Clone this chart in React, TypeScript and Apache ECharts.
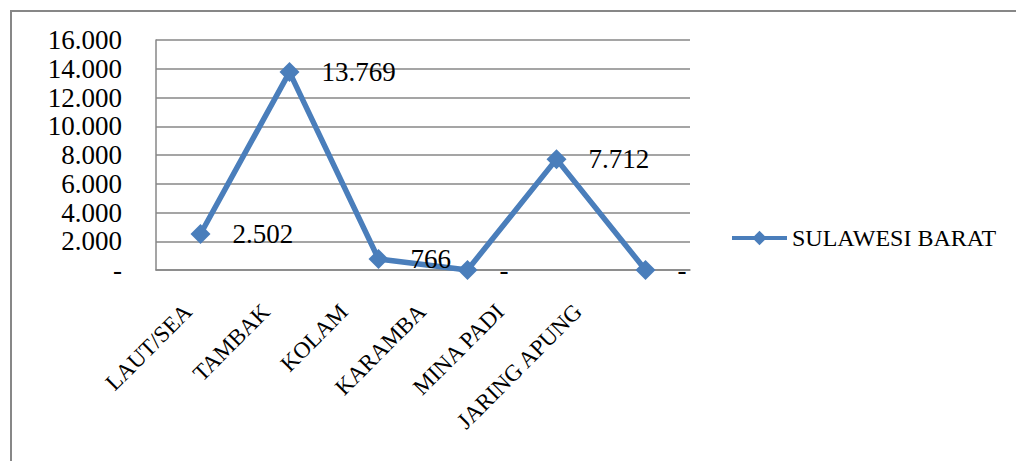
import React, { useEffect, useRef } from "react";
import * as echarts from "echarts";

const categories = ["LAUT/SEA", "TAMBAK", "KOLAM", "KARAMBA", "MINA PADI", "JARING APUNG"];
const values = [2502, 13769, 766, 0, 7712, 0];
const seriesName = "SULAWESI BARAT";
const yMin = 0;
const yMax = 16000;
const yInterval = 2000;

const fmt = (v: number) =>
  v === 0 ? "-" : String(Math.round(v)).replace(/\B(?=(\d{3})+(?!\d))/g, ".");

const FONT = "Liberation Serif";
const BLUE = "#4a7ebb";
const GRAY = "#878787";

export default function App() {
  const ref = useRef<HTMLDivElement>(null);
  useEffect(() => {
    if (!ref.current) return;
    const chart = echarts.init(ref.current, undefined, { renderer: "svg" });
    chart.setOption({
      animation: false,
      backgroundColor: "#ffffff",
      textStyle: { fontFamily: FONT },
      graphic: [
        {
          type: "rect",
          shape: { x: 11, y: 11, width: 1010, height: 460 },
          style: { fill: "none", stroke: GRAY, lineWidth: 2 },
          silent: true,
        },
      ],
      legend: {
        left: 730,
        top: 226,
        padding: 0,
        itemWidth: 55,
        itemHeight: 18,
        itemGap: 5,
        lineStyle: { width: 4 },
        textStyle: { fontFamily: FONT, fontSize: 24, color: "#000" },
        data: [seriesName],
      },
      grid: [
        { left: 156, top: 40, width: 534, height: 230 },
        { left: 149, top: 40, width: 468, height: 230 },
      ],
      xAxis: [
        {
          type: "category",
          gridIndex: 0,
          data: categories,
          boundaryGap: true,
          axisLine: { show: true, lineStyle: { color: GRAY, width: 1.5 } },
          axisTick: { show: false },
          axisLabel: { show: false },
        },
        {
          type: "category",
          gridIndex: 1,
          data: categories,
          boundaryGap: true,
          axisLine: { show: false },
          axisTick: { show: false },
          axisLabel: {
            show: true,
            rotate: 45,
            margin: 38,
            interval: 0,
            fontFamily: FONT,
            fontSize: 23,
            color: "#000",
          },
        },
      ],
      yAxis: [
        {
          type: "value",
          gridIndex: 0,
          min: yMin,
          max: yMax,
          interval: yInterval,
          axisLine: { show: true, lineStyle: { color: GRAY, width: 1.5 } },
          axisTick: { show: false },
          splitLine: { show: true, lineStyle: { color: GRAY, width: 1.5 } },
          axisLabel: {
            margin: 34,
            fontFamily: FONT,
            fontSize: 27,
            color: "#000",
            formatter: (v: number) => fmt(v),
          },
        },
        { type: "value", gridIndex: 1, show: false, min: yMin, max: yMax },
      ],
      series: [
        {
          name: seriesName,
          type: "line",
          xAxisIndex: 0,
          yAxisIndex: 0,
          data: values,
          symbol: "diamond",
          symbolSize: 20,
          showAllSymbol: true,
          lineStyle: { color: BLUE, width: 5.5 },
          itemStyle: { color: BLUE },
          label: {
            show: true,
            position: "right",
            distance: 22,
            fontFamily: FONT,
            fontSize: 27,
            color: "#000",
            formatter: (p: any) => fmt(p.value),
          },
        },
      ],
    });
    return () => chart.dispose();
  }, []);
  return (
    <div
      ref={ref}
      style={{ position: "absolute", left: 0, top: 0, width: 1016, height: 461, background: "#fff" }}
    />
  );
}
